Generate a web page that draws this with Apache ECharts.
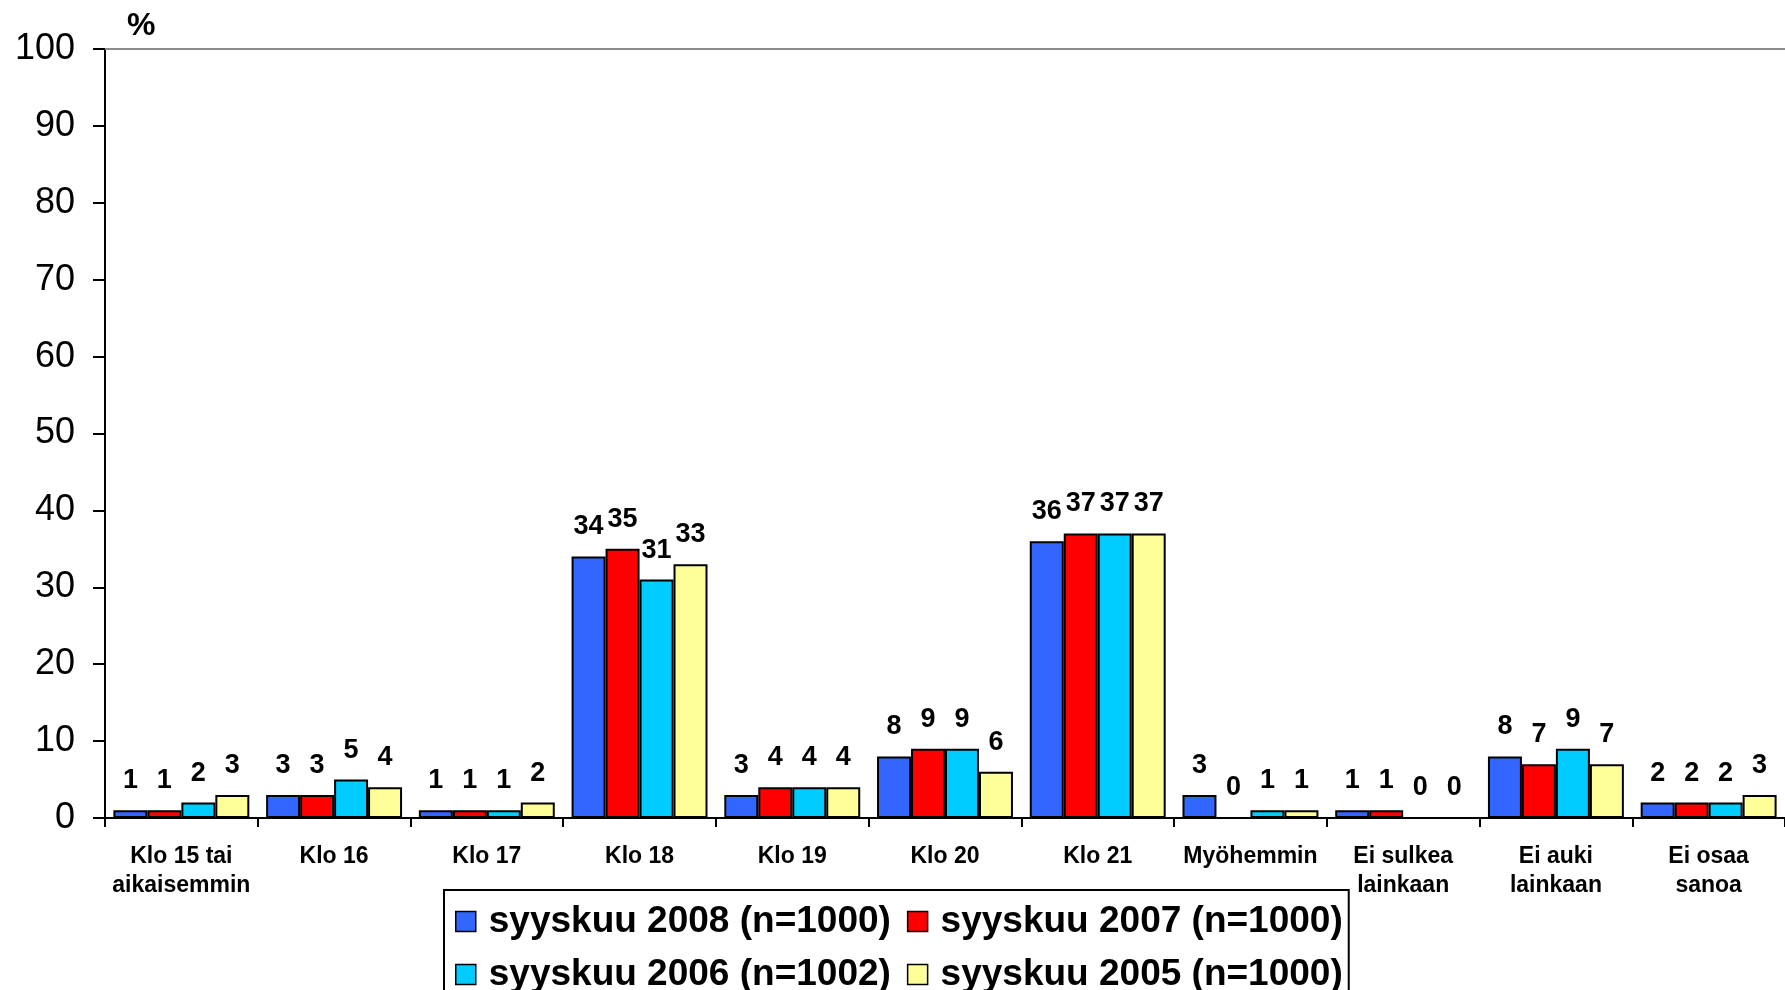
<!DOCTYPE html>
<html>
<head>
<meta charset="utf-8">
<script src="https://cdn.jsdelivr.net/npm/echarts@6/dist/echarts.min.js"></script>
<style>
  html, body { margin: 0; padding: 0; background: #fff; }
  #chart { width: 1785px; height: 990px; }
</style>
</head>
<body>
<div id="chart"></div>
<script>
// kategoriat ja vastaukset (%)
var categories = ['Klo 15 tai\naikaisemmin', 'Klo 16', 'Klo 17', 'Klo 18', 'Klo 19', 'Klo 20',
  'Klo 21', 'Myöhemmin', 'Ei sulkea\nlainkaan', 'Ei auki\nlainkaan', 'Ei osaa\nsanoa'];
var seriesNames = ['syyskuu 2008 (n=1000)', 'syyskuu 2007 (n=1000)', 'syyskuu 2006 (n=1002)', 'syyskuu 2005 (n=1000)'];
var v2008 = [1, 3, 1, 34, 3, 8, 36, 3, 1, 8, 2];
var v2007 = [1, 3, 1, 35, 4, 9, 37, 0, 1, 7, 2];
var v2006 = [2, 5, 1, 31, 4, 9, 37, 1, 0, 9, 2];
var v2005 = [3, 4, 2, 33, 4, 6, 37, 1, 0, 7, 3];
var colors = ['#3366FF', '#FF0000', '#00CCFF', '#FFFF99'];

var chart = echarts.init(document.getElementById('chart'));

function bar (name, data, color, withTopLine) {
  var s = {
    name: name,
    type: 'bar',
    data: data,
    barGap: '0%',
    barCategoryGap: '11%',
    itemStyle: { color: color, borderColor: '#000', borderWidth: 2 },
    label: {
      show: true,
      position: 'top',
      distance: 16,
      color: '#000',
      fontFamily: 'Liberation Sans, Arial, sans-serif',
      fontWeight: 'bold',
      fontSize: 27
    }
  };
  if (withTopLine) {
    s.markLine = {
      silent: true,
      symbol: 'none',
      label: { show: false },
      lineStyle: { color: '#8c8c8c', type: 'solid', width: 2 },
      data: [{ yAxis: 100 }]
    };
  }
  return s;
}

chart.setOption({
  animation: false,
  backgroundColor: '#fff',
  color: colors,
  textStyle: { fontFamily: 'Liberation Sans, Arial, sans-serif' },
  grid: { left: 105, right: 0, top: 49, bottom: 172 },
  legend: {
    left: 444,
    top: 890,
    padding: [13, 6, 17, 11],
    borderColor: '#000',
    borderWidth: 2,
    itemWidth: 20,
    itemHeight: 20,
    itemGap: 16,
    width: 900,
    icon: 'rect',
    itemStyle: { borderColor: '#000', borderWidth: 1.5 },
    textStyle: {
      fontFamily: 'Liberation Sans, Arial, sans-serif',
      fontWeight: 'bold',
      fontSize: 37,
      lineHeight: 13,
      color: '#000',
      padding: [0, 0, 0, 8]
    },
    data: seriesNames
  },
  xAxis: {
    type: 'category',
    data: categories,
    axisLine: { lineStyle: { color: '#000', width: 2 } },
    axisTick: { show: true, length: 9, lineStyle: { color: '#000', width: 2 } },
    axisLabel: {
      interval: 0,
      margin: 24,
      color: '#000',
      fontWeight: 'bold',
      fontSize: 23,
      lineHeight: 29
    }
  },
  yAxis: {
    type: 'value',
    min: 0,
    max: 100,
    interval: 10,
    name: '%',
    nameLocation: 'end',
    nameGap: 7,
    nameTextStyle: {
      color: '#000',
      fontWeight: 'bold',
      fontSize: 32,
      align: 'left',
      padding: [0, 0, 0, 22]
    },
    axisLine: { show: true, lineStyle: { color: '#000', width: 2 } },
    axisTick: { show: true, length: 12, lineStyle: { color: '#000', width: 2 } },
    splitLine: { show: false },
    axisLabel: { color: '#000', fontSize: 36, margin: 30 }
  },
  series: [
    bar(seriesNames[0], v2008, colors[0], true),
    bar(seriesNames[1], v2007, colors[1]),
    bar(seriesNames[2], v2006, colors[2]),
    bar(seriesNames[3], v2005, colors[3])
  ]
});
</script>
</body>
</html>
